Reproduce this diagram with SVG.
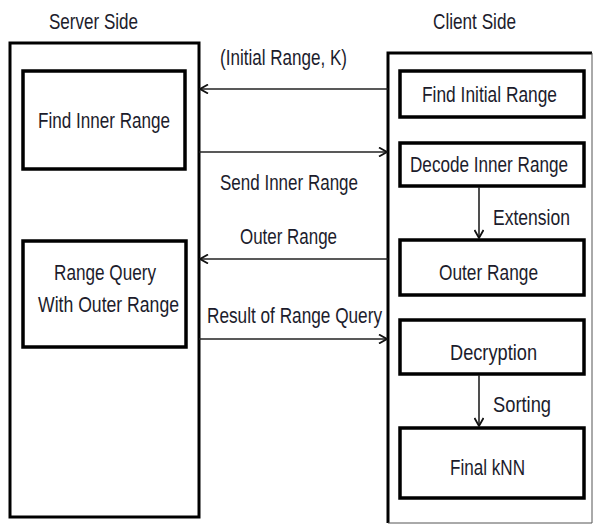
<svg xmlns="http://www.w3.org/2000/svg" width="595" height="525" viewBox="0 0 595 525">
  <defs>
    <marker id="arr" viewBox="0 0 10 10" refX="9" refY="5" markerWidth="10" markerHeight="10" markerUnits="userSpaceOnUse" orient="auto">
      <path d="M1,0.5 L9,5 L1,9.5" fill="none" stroke="#111" stroke-width="1.8"/>
    </marker>
  </defs>
  <style>
    text { font-family: "Liberation Sans", Arial, sans-serif; font-size: 22px; fill: #1c1c2c; }
    .box { fill: #fff; stroke: #000; stroke-width: 3.5; }
    .outer { fill: none; stroke: #000; stroke-width: 3; }
    .link { fill: none; stroke: #222; stroke-width: 1.6; marker-end: url(#arr); }
  </style>
  <rect width="595" height="525" fill="#fff"/>

  <!-- Server side -->
  <g id="server">
    <text x="49" y="29" textLength="89" lengthAdjust="spacingAndGlyphs">Server Side</text>
    <rect class="outer" x="10" y="43" width="189" height="474"/>
  </g>
  <g id="find-inner-range">
    <rect class="box" x="23" y="71" width="162" height="98"/>
    <text x="38" y="128" textLength="132" lengthAdjust="spacingAndGlyphs">Find Inner Range</text>
  </g>
  <g id="range-query">
    <rect class="box" x="23" y="241" width="163" height="106"/>
    <text x="54" y="280" textLength="102" lengthAdjust="spacingAndGlyphs">Range Query</text>
    <text x="38" y="312" textLength="141" lengthAdjust="spacingAndGlyphs">With Outer Range</text>
  </g>

  <!-- Client side -->
  <g id="client">
    <text x="433" y="29" textLength="83" lengthAdjust="spacingAndGlyphs">Client Side</text>
    <path d="M388,523 V53 H592" fill="none" stroke="#000" stroke-width="3"/>
    <path d="M592,53 V523 H388" fill="none" stroke="#555" stroke-width="1"/>
  </g>
  <g id="find-initial-range">
    <rect class="box" x="400" y="71" width="184" height="46"/>
    <text x="422" y="102" textLength="135" lengthAdjust="spacingAndGlyphs">Find Initial Range</text>
  </g>
  <g id="decode-inner-range">
    <rect class="box" x="400" y="143" width="184" height="43"/>
    <text x="410" y="172" textLength="158" lengthAdjust="spacingAndGlyphs">Decode Inner Range</text>
  </g>
  <g id="outer-range">
    <rect class="box" x="400" y="240" width="184" height="55"/>
    <text x="439" y="280" textLength="99" lengthAdjust="spacingAndGlyphs">Outer Range</text>
  </g>
  <g id="decryption">
    <rect class="box" x="400" y="320" width="184" height="54"/>
    <text x="450" y="360" textLength="87" lengthAdjust="spacingAndGlyphs">Decryption</text>
  </g>
  <g id="final-knn">
    <rect class="box" x="400" y="428" width="184" height="70"/>
    <text x="450" y="475" textLength="75" lengthAdjust="spacingAndGlyphs">Final kNN</text>
  </g>

  <!-- Connectors -->
  <g id="connectors">
    <line class="link" x1="388" y1="89" x2="200" y2="89"/>
    <text x="220" y="65" textLength="127" lengthAdjust="spacingAndGlyphs">(Initial Range, K)</text>

    <line class="link" x1="199" y1="152" x2="387" y2="152"/>
    <text x="220" y="190" textLength="138" lengthAdjust="spacingAndGlyphs">Send Inner Range</text>

    <line class="link" x1="388" y1="259" x2="200" y2="259"/>
    <text x="240" y="244" textLength="97" lengthAdjust="spacingAndGlyphs">Outer Range</text>

    <line class="link" x1="199" y1="339" x2="387" y2="339"/>
    <text x="207" y="323" textLength="175" lengthAdjust="spacingAndGlyphs">Result of Range Query</text>

    <line class="link" x1="479" y1="187" x2="479" y2="238"/>
    <text x="493" y="225" textLength="77" lengthAdjust="spacingAndGlyphs">Extension</text>

    <line class="link" x1="479" y1="375" x2="479" y2="426"/>
    <text x="493" y="412" textLength="58" lengthAdjust="spacingAndGlyphs">Sorting</text>
  </g>
</svg>
